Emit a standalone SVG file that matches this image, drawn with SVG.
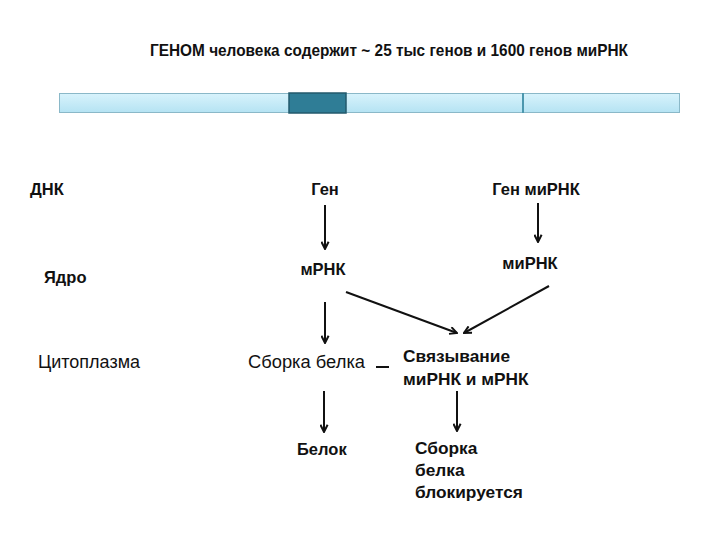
<svg xmlns="http://www.w3.org/2000/svg" width="720" height="540" viewBox="0 0 720 540">
<style>
text{font-family:"Liberation Sans",Arial,sans-serif;font-size:16.5px;fill:#111;font-weight:bold}
.r{font-weight:normal;font-size:17.5px}
.b{font-size:17.3px}
.c{stroke:#111;stroke-width:2;fill:none}
</style>
<defs>
<marker id="ah" viewBox="0 0 10 10" refX="9" refY="5" markerWidth="9" markerHeight="9" orient="auto" markerUnits="userSpaceOnUse">
<path d="M1,1 L9,5 L1,9" fill="none" stroke="#111" stroke-width="2.2"/>
</marker>
<linearGradient id="bg" x1="0" y1="0" x2="0" y2="1">
<stop offset="0" stop-color="#d8f3fc"/><stop offset="1" stop-color="#b5e3f3"/>
</linearGradient>
</defs>
<rect width="720" height="540" fill="#fff"/>
<g id="title"><text x="150" y="56" textLength="478" lengthAdjust="spacingAndGlyphs">ГЕНОМ  человека содержит ~ 25 тыс генов и 1600 генов миРНК</text></g>
<g id="genome">
<rect x="59.5" y="93.5" width="620" height="19" fill="url(#bg)" stroke="#8ab8c8"/>
<rect x="289" y="93" width="57" height="20" fill="#2f7d96" stroke="#235a6c" stroke-width="1.5"/>
<line x1="523" y1="93" x2="523" y2="113" stroke="#4c97ae" stroke-width="2"/>
</g>
<g id="lbl-dna"><text x="30" y="195">ДНК</text></g>
<g id="lbl-nucleus"><text x="44" y="283">Ядро</text></g>
<g id="lbl-cyto"><text x="38" y="368" class="r" textLength="102" lengthAdjust="spacingAndGlyphs">Цитоплазма</text></g>
<g id="gene"><text x="325" y="195" text-anchor="middle">Ген</text></g>
<g id="mirgene"><text x="536" y="195" text-anchor="middle">Ген миРНК</text></g>
<g id="mrna"><text x="323" y="275" text-anchor="middle">мРНК</text></g>
<g id="mirna"><text x="530" y="269" text-anchor="middle">миРНК</text></g>
<g id="assembly"><text x="248" y="368" class="r" textLength="117" lengthAdjust="spacingAndGlyphs">Сборка белка</text></g>
<g id="binding"><text x="403" y="362" class="b">Связывание</text><text x="403" y="385" class="b">миРНК и мРНК</text></g>
<g id="protein"><text x="297" y="455">Белок</text></g>
<g id="blocked"><text x="415" y="454" class="b">Сборка</text><text x="415" y="476" class="b">белка</text><text x="415" y="498" class="b">блокируется</text></g>
<g id="connectors">
<line class="c" x1="325" y1="205" x2="325" y2="249" marker-end="url(#ah)"/>
<line class="c" x1="538" y1="203" x2="538" y2="242" marker-end="url(#ah)"/>
<line class="c" x1="325" y1="302" x2="325" y2="343" marker-end="url(#ah)"/>
<line class="c" x1="346" y1="292" x2="457" y2="333" marker-end="url(#ah)"/>
<line class="c" x1="549" y1="286" x2="464" y2="333" marker-end="url(#ah)"/>
<line class="c" x1="376" y1="367" x2="389" y2="367"/>
<line class="c" x1="324" y1="391" x2="324" y2="432" marker-end="url(#ah)"/>
<line class="c" x1="457" y1="391" x2="457" y2="431" marker-end="url(#ah)"/>
</g>
</svg>
